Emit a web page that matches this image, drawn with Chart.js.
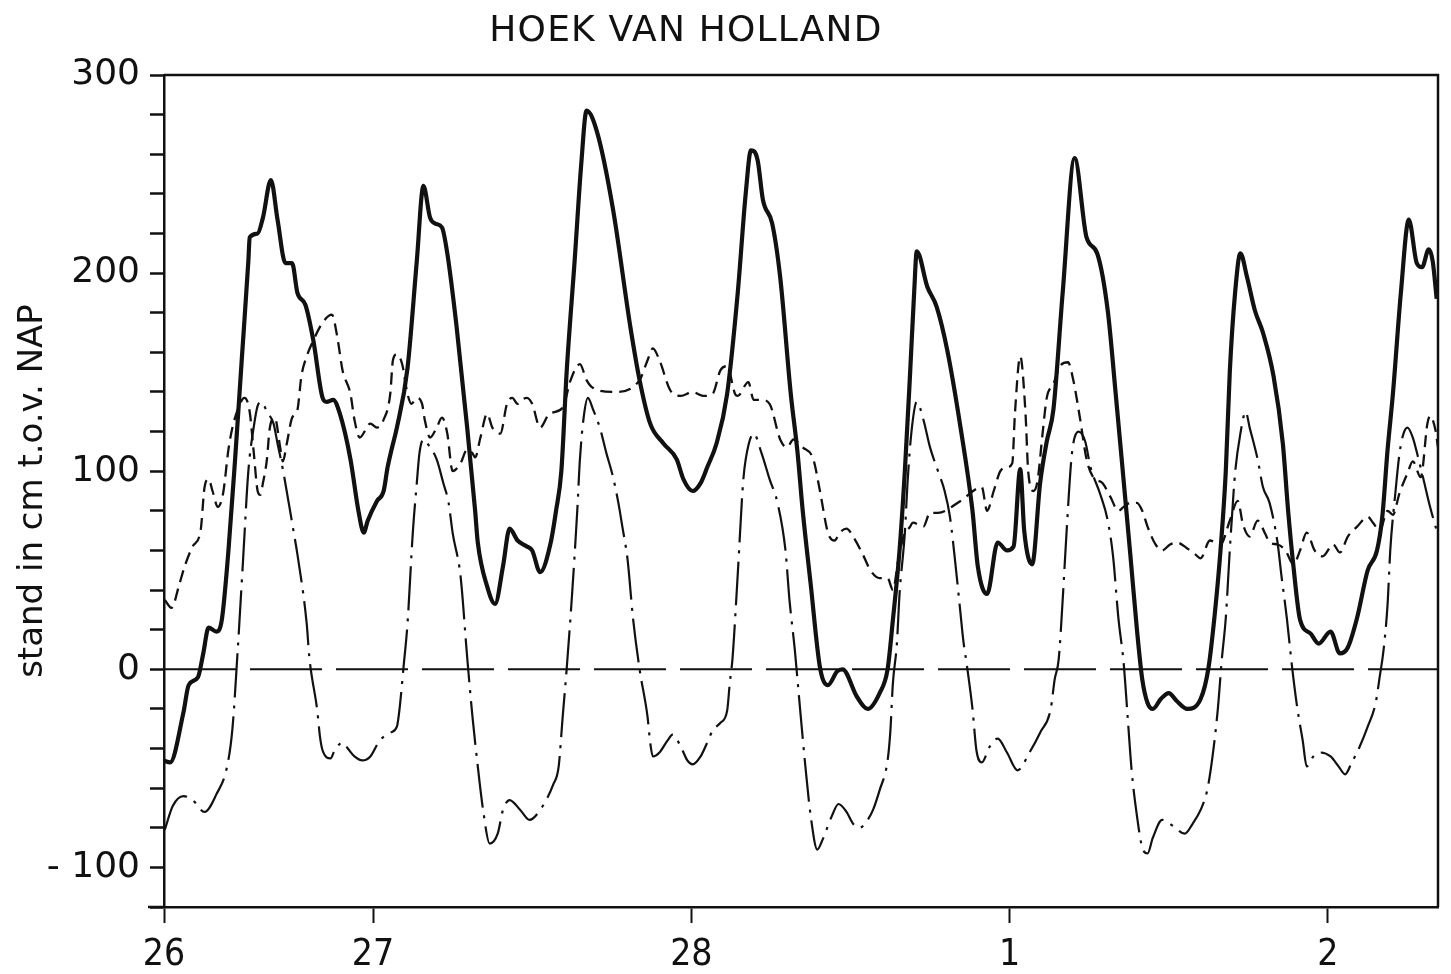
<!DOCTYPE html>
<html>
<head>
<meta charset="utf-8">
<title>Hoek van Holland</title>
<script src="https://cdn.jsdelivr.net/npm/chart.js@4.4.0/dist/chart.umd.min.js"></script>
<style>
  html, body { margin: 0; padding: 0; background: #fff; }
  #wrap { width: 1451px; height: 974px; }
</style>
</head>
<body>
<div id="wrap"><canvas id="graphicTide"></canvas></div>
<script>
//-----Texts
const chartTitle = 'HOEK VAN HOLLAND';
const yTitle = 'stand in cm t.o.v. NAP';

//-----Time axis (hours since 26th 00:00)
const xStart = 8.24;
const xEnd = 104.3;
const dayTicks = [8.24, 24, 48, 72, 96];
const dayLabels = ['26', '27', '28', '1', '2'];

//-----Observed water level (thick solid line)
const hoursObserved = [8.2, 8.7, 9.7, 10.1, 10.8, 11.2, 11.6, 12.2, 12.6, 13.1, 13.6, 14.1, 14.6, 14.7, 15.3, 15.7, 16.3, 16.8, 17.4, 17.9,
  18.3, 18.9, 19.5, 20.2, 20.5, 21.0, 21.5, 22.3, 22.9, 23.3, 23.6, 24.3, 24.8, 25.1, 25.4, 25.8, 26.6, 27.3, 27.8, 28.3,
  28.7, 29.2, 29.6, 30.3, 31.1, 31.7, 31.9, 32.6, 33.2, 33.8, 34.3, 34.9, 35.6, 36.0, 36.6, 37.4, 37.8, 38.2, 38.6, 39.2,
  39.7, 40.1, 40.9, 42.1, 43.4, 44.1, 44.9, 45.9, 46.9, 47.4, 48.1, 48.7, 49.2, 49.9, 50.7, 51.5, 52.1, 52.5, 53.0, 53.4,
  54.1, 54.7, 55.5, 56.0, 56.4, 57.0, 57.7, 58.3, 59.0, 59.4, 60.5, 61.3, 62.2, 62.8, 63.2, 63.7, 64.1, 64.5, 64.8, 65.0,
  65.8, 66.5, 67.3, 68.3, 69.2, 69.6, 70.3, 71.1, 71.8, 72.3, 72.8, 73.1, 73.7, 74.3, 74.8, 75.3, 76.0, 76.9, 77.8, 78.6,
  79.4, 80.0, 80.6, 81.1, 81.6, 82.0, 82.4, 82.8, 83.4, 84.0, 84.6, 85.4, 86.4, 87.0, 87.5, 87.9, 88.3, 88.6, 89.0, 89.4,
  89.9, 90.5, 91.1, 91.9, 92.6, 93.0, 93.4, 93.9, 94.7, 95.3, 96.2, 96.9, 97.5, 98.2, 99.0, 99.7, 100.1, 100.5, 100.9, 101.5,
  102.1, 102.7, 103.1, 103.6, 103.9, 104.2];
const observed = [-46, -47, -22, -8, -4, 8, 21, 19, 25, 60, 106, 156, 206, 218, 220, 228, 247, 227, 205, 205,
  190, 184, 166, 137, 135, 136, 129, 106, 80, 69, 75, 85, 90, 102, 111, 122, 152, 206, 244, 228,
  225, 223, 210, 173, 122, 80, 64, 42, 33, 52, 71, 65, 62, 60, 49, 64, 80, 100, 150, 206,
  255, 282, 271, 232, 173, 146, 124, 114, 106, 96, 90, 94, 102, 114, 139, 190, 240, 262, 257, 237,
  225, 198, 139, 110, 80, 43, 1, -8, -1, 0, -14, -20, -12, 0, 25, 60, 100, 150, 190, 211,
  193, 183, 161, 122, 80, 52, 38, 64, 60, 62, 101, 70, 53, 94, 115, 131, 190, 258, 218, 210,
  181, 139, 95, 58, 20, -5, -17, -20, -15, -12, -16, -20, -15, 1, 30, 60, 100, 150, 190, 210,
  198, 181, 170, 148, 114, 80, 52, 25, 18, 13, 19, 8, 11, 26, 50, 60, 77, 111, 139, 190,
  227, 205, 203, 212, 206, 187];

//-----Surge, observed minus tide (dashed line)
const hoursSurge = [8.3, 8.8, 9.4, 9.8, 10.4, 11.0, 11.3, 11.6, 11.9, 12.3, 12.7, 13.1, 13.4, 13.8, 14.3, 14.7, 15.0, 15.3, 15.5, 15.7,
  16.0, 16.2, 16.6, 17.0, 17.2, 17.5, 17.9, 18.3, 18.6, 19.0, 19.5, 20.2, 20.9, 21.3, 21.7, 22.3, 22.6, 23.0, 23.8, 24.3,
  24.8, 25.3, 25.5, 25.8, 26.2, 26.6, 26.9, 27.3, 27.7, 27.9, 28.3, 28.8, 29.2, 29.6, 30.0, 30.6, 31.1, 31.5, 31.7, 32.1,
  32.6, 33.0, 33.6, 34.1, 34.5, 34.9, 35.2, 35.6, 36.0, 36.6, 37.3, 38.3, 38.9, 39.6, 40.1, 40.6, 42.2, 44.1, 44.7, 45.1,
  45.6, 46.4, 47.2, 48.1, 48.9, 49.6, 50.2, 50.7, 51.3, 51.5, 52.3, 52.7, 53.3, 53.9, 54.7, 55.2, 55.7, 56.4, 57.2, 57.7,
  58.3, 58.8, 59.2, 59.7, 60.2, 61.0, 61.5, 62.2, 62.8, 63.2, 63.6, 64.0, 64.5, 64.7, 65.5, 66.0, 66.6, 68.3, 69.9, 70.3,
  70.8, 71.3, 71.8, 72.2, 72.4, 72.8, 73.2, 73.4, 73.8, 74.1, 74.5, 74.8, 75.3, 75.8, 76.4, 76.8, 77.3, 77.8, 78.3, 79.0,
  79.6, 80.2, 80.6, 81.1, 81.6, 82.0, 82.4, 83.0, 83.5, 84.1, 84.6, 85.4, 86.0, 86.4, 87.1, 87.9, 88.6, 89.2, 89.6, 90.1,
  90.7, 91.3, 91.6, 92.2, 92.8, 93.4, 93.9, 94.4, 95.0, 95.6, 96.4, 96.9, 97.5, 98.2, 99.0, 99.4, 99.9, 100.5, 100.9, 101.4,
  102.0, 102.4, 103.0, 103.5, 103.7, 104.1, 104.3];
const surge = [35, 31, 43, 52, 62, 70, 92, 96, 90, 82, 89, 111, 122, 131, 137, 130, 110, 90, 88, 94,
  106, 121, 127, 112, 105, 114, 127, 131, 148, 158, 166, 175, 179, 168, 151, 139, 126, 117, 124, 122,
  126, 139, 156, 159, 154, 139, 134, 137, 134, 126, 117, 122, 127, 119, 100, 104, 111, 109, 107, 117,
  129, 122, 119, 134, 137, 134, 136, 137, 134, 122, 129, 132, 146, 154, 146, 142, 140, 146, 156, 162,
  156, 141, 138, 140, 138, 139, 151, 153, 139, 138, 145, 136, 136, 134, 116, 112, 116, 112, 106, 90,
  69, 65, 69, 71, 67, 57, 50, 46, 46, 40, 55, 67, 72, 74, 72, 79, 79, 85, 92, 80,
  90, 100, 102, 104, 129, 158, 129, 100, 90, 95, 120, 137, 144, 153, 155, 146, 127, 106, 97, 94,
  87, 80, 82, 84, 84, 80, 72, 63, 60, 63, 64, 61, 58, 56, 65, 63, 75, 85, 73, 67,
  75, 68, 64, 63, 60, 53, 60, 69, 60, 57, 63, 59, 67, 72, 77, 74, 70, 80, 78, 89,
  99, 105, 97, 124, 128, 121, 112];

//-----Astronomical tide (dash-dot line)
const hoursTide = [8.3, 8.9, 9.7, 10.4, 11.3, 12.2, 13.0, 13.4, 13.8, 14.2, 14.6, 15.0, 15.3, 15.6, 16.0, 16.5, 16.8, 17.2, 18.0, 18.3,
  19.0, 19.2, 19.8, 20.0, 20.2, 20.8, 21.1, 21.7, 22.1, 22.6, 23.2, 23.8, 24.5, 25.3, 25.8, 26.0, 26.3, 26.6, 27.0, 27.3,
  27.5, 27.8, 28.1, 28.8, 29.3, 29.7, 30.0, 30.6, 31.1, 31.5, 31.9, 32.3, 32.8, 33.4, 33.8, 34.3, 35.1, 35.8, 36.6, 37.6,
  38.0, 38.3, 38.6, 39.0, 39.4, 39.6, 39.9, 40.2, 40.6, 41.1, 41.6, 42.1, 42.5, 42.8, 43.2, 43.6, 44.1, 44.7, 44.9, 45.1,
  45.6, 46.2, 46.6, 47.2, 47.7, 48.1, 48.7, 49.2, 49.6, 50.2, 50.7, 50.9, 51.1, 51.5, 51.9, 52.1, 52.7, 53.3, 53.9, 54.5,
  55.1, 55.4, 55.8, 56.2, 56.6, 57.0, 57.5, 57.9, 58.6, 59.1, 59.7, 60.2, 60.7, 61.3, 61.7, 62.2, 62.8, 63.0, 63.2, 63.5,
  63.7, 64.1, 64.3, 64.6, 65.0, 65.5, 66.0, 66.6, 67.1, 67.5, 67.9, 68.3, 68.5, 68.8, 69.2, 69.5, 69.9, 70.5, 71.1, 71.8,
  72.6, 73.5, 74.3, 75.1, 75.4, 75.7, 76.0, 76.3, 76.7, 77.2, 77.7, 78.1, 78.8, 79.4, 79.8, 80.2, 80.6, 80.9, 81.2, 81.6,
  82.0, 82.4, 82.8, 83.5, 84.3, 85.2, 85.8, 86.4, 86.9, 87.3, 87.7, 88.0, 88.3, 88.6, 89.0, 89.4, 89.8, 90.1, 90.7, 91.1,
  91.6, 92.2, 92.5, 92.9, 93.3, 93.7, 94.1, 94.4, 94.9, 95.4, 96.2, 96.8, 97.3, 97.8, 98.4, 99.0, 99.6, 99.9, 100.2, 100.5,
  100.7, 101.1, 101.4, 101.7, 102.0, 102.4, 102.8, 103.2, 103.7, 104.2];
const tide = [-81, -69, -64, -66, -72, -63, -49, -30, 10, 55, 100, 122, 133, 135, 130, 124, 114, 101, 70, 58,
  23, 6, -21, -34, -41, -45, -41, -37, -40, -44, -46, -44, -36, -32, -29, -20, 1, 23, 69, 94,
  109, 116, 114, 106, 94, 84, 69, 47, 6, -24, -49, -71, -88, -83, -71, -66, -71, -76, -71, -58,
  -49, -24, 0, 37, 80, 106, 128, 137, 131, 122, 109, 97, 84, 72, 55, 26, 0, -24, -37, -44,
  -42, -36, -33, -39, -46, -48, -44, -37, -31, -27, -21, -7, 5, 48, 94, 106, 119, 109, 96, 84,
  60, 35, 10, -20, -49, -74, -91, -86, -74, -68, -72, -78, -80, -76, -71, -61, -46, -32, -7, 13,
  38, 69, 94, 120, 135, 126, 112, 100, 90, 77, 54, 28, 15, 1, -20, -41, -47, -39, -35, -42,
  -51, -42, -32, -20, -5, 5, 35, 70, 109, 120, 115, 102, 89, 75, 57, 26, 3, -24, -51, -74,
  -90, -93, -85, -76, -79, -83, -78, -71, -61, -44, -20, 5, 26, 60, 99, 119, 130, 122, 106, 92,
  84, 64, 47, 26, 1, -20, -36, -49, -44, -42, -44, -49, -53, -47, -39, -29, -17, -4, 10, 33,
  60, 90, 109, 119, 122, 117, 107, 96, 82, 70];


//-----HELPERS
function toPoints(xs, ys){
  return xs.map((x, i) => ({x: x, y: ys[i]}));
}

function yTickLabel(value){
  if (value % 100 !== 0) return '';
  return value < 0 ? '- ' + Math.abs(value) : String(value);
}

//-----PLUGIN: title + closing frame of the plot box
const frameTitle = {
  id: 'frameTitle',
  afterDraw(chart){
    const ctx = chart.ctx;
    const a = chart.chartArea;
    ctx.save();
    ctx.strokeStyle = '#111';
    ctx.lineWidth = 2.5;
    ctx.beginPath();
    ctx.moveTo(a.left, a.top);
    ctx.lineTo(a.right, a.top);
    ctx.lineTo(a.right, a.bottom);
    ctx.moveTo(a.left - 16, a.bottom);
    ctx.lineTo(a.left, a.bottom);
    ctx.stroke();

    ctx.fillStyle = '#111';
    ctx.font = '36px "DejaVu Sans"';
    ctx.letterSpacing = '1.2px';
    ctx.textAlign = 'center';
    ctx.textBaseline = 'middle';
    ctx.fillText(chartTitle, 686, 32);
    ctx.restore();
  }
};

//-----GRAPHIC
let chartTide;
function drawGraphicTide(){
  const ctx = document.getElementById('graphicTide').getContext('2d');
  if (chartTide) {
    chartTide.destroy();
  }

  const lineBase = {
    borderColor: '#111',
    pointRadius: 0,
    fill: false,
    cubicInterpolationMode: 'monotone',
    borderJoinStyle: 'round',
  };

  chartTide = new Chart(ctx, {
    type: 'line',
    data: {
      datasets: [
        Object.assign({}, lineBase, {label: 'waterstand', data: toPoints(hoursObserved, observed), borderWidth: 4.2}),
        Object.assign({}, lineBase, {label: 'opzet', data: toPoints(hoursSurge, surge), borderWidth: 2.3, borderDash: [12, 7]}),
        Object.assign({}, lineBase, {label: 'getij', data: toPoints(hoursTide, tide), borderWidth: 2.2, borderDash: [44, 8, 3, 8]}),
        Object.assign({}, lineBase, {label: 'NAP', data: [{x: xStart, y: 0}, {x: xEnd, y: 0}], borderWidth: 2, borderDash: [72, 14]}),
      ]
    },
    options: {
      responsive: true,
      maintainAspectRatio: false,
      animation: false,
      layout: {
        padding: {top: 75, right: 13, left: 0, bottom: 0}
      },
      plugins: {
        legend: {display: false},
        tooltip: {enabled: false},
        title: {display: false},
      },
      scales: {
        x: {
          type: 'linear',
          min: xStart,
          max: xEnd,
          afterBuildTicks: (scale) => {
            scale.ticks = dayTicks.map(v => ({value: v}));
          },
          afterFit: (scale) => {
            scale.height = 67;
          },
          ticks: {
            autoSkip: false,
            maxRotation: 0,
            padding: 10,
            color: '#111',
            font: {family: '"DejaVu Sans Condensed", "DejaVu Sans"', size: 37},
            callback: (value, index) => dayLabels[index],
          },
          grid: {
            drawOnChartArea: false,
            drawTicks: true,
            tickLength: 16,
            tickWidth: 2,
            tickColor: '#111',
          },
          border: {display: true, color: '#111', width: 2.5},
        },
        y: {
          min: -120,
          max: 300,
          afterFit: (scale) => {
            scale.width = 164;
          },
          ticks: {
            stepSize: 20,
            autoSkip: false,
            padding: 10,
            color: '#111',
            font: {family: '"DejaVu Sans"', size: 36},
            callback: (value) => yTickLabel(value),
          },
          grid: {
            drawOnChartArea: false,
            drawTicks: true,
            tickLength: 14,
            tickWidth: 2.5,
            tickColor: '#111',
          },
          border: {display: true, color: '#111', width: 2.5},
          title: {
            display: true,
            text: yTitle,
            color: '#111',
            font: {family: '"DejaVu Sans"', size: 34},
            padding: {top: 13, bottom: 0},
          },
        }
      }
    },
    plugins: [frameTitle],
  });
}

window.onload = function(){
  drawGraphicTide();
}
</script>
</body>
</html>
